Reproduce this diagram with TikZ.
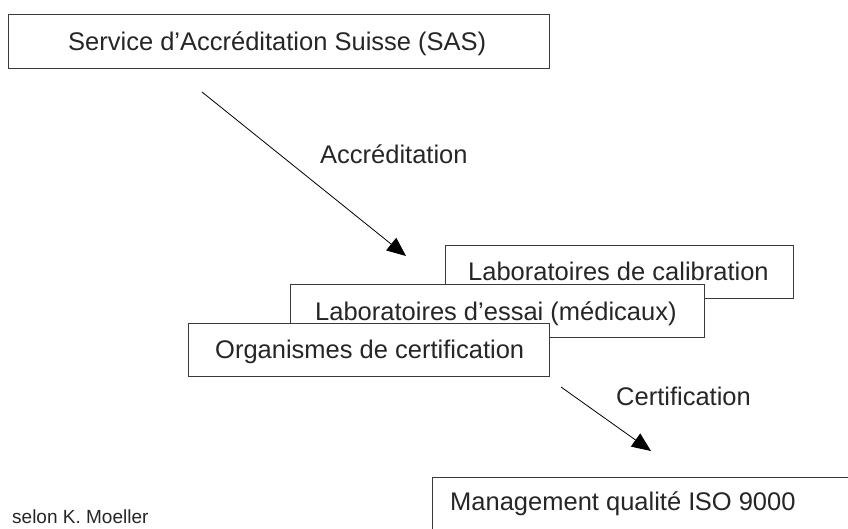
\documentclass[tikz,border=0pt]{standalone}
\usepackage{fontspec}
\setmainfont{Liberation Sans}
\usetikzlibrary{arrows.meta}
\definecolor{ink}{HTML}{262626}
\definecolor{frame}{HTML}{3A3A3A}
\begin{document}
\begin{tikzpicture}[x=1pt,y=-1pt,
  panel/.style={draw=frame, line width=1.1pt, fill=white, rectangle, inner sep=0pt, anchor=north west},
  caption/.style={text=ink, inner sep=0pt, anchor=base west, font=\fontsize{25.5}{30}\selectfont},
  small/.style={text=ink, inner sep=0pt, anchor=base west, font=\fontsize{19}{23}\selectfont},
  flow/.style={draw=black, line width=0.8pt, -{Triangle[length=19pt,width=16pt]}}]
\useasboundingbox (0,0) rectangle (848,528);
\begin{scope}
\clip (0,0) rectangle (848,528);
% accreditation body
\node[panel, minimum width=541pt, minimum height=54pt] (sas) at (8,14) {};
\node[caption] (sastxt) at (68,50) {Service d’Accréditation Suisse (SAS)};
% accreditation arrow
\coordinate (a1) at (202,92);
\coordinate (a2) at (406,256);
\draw[flow] (a1) -- (a2);
\node[caption] (acc) at (320,163) {Accréditation};
% stacked accredited bodies, back to front
\node[panel, minimum width=348pt, minimum height=53pt] (cal) at (445,245) {};
\node[caption] (caltxt) at (468,280) {Laboratoires de calibration};
\node[panel, minimum width=414pt, minimum height=53pt] (ess) at (290,284) {};
\node[caption] (esstxt) at (315,320) {Laboratoires d’essai (médicaux)};
\node[panel, minimum width=361pt, minimum height=53pt] (org) at (188,323) {};
\node[caption] (orgtxt) at (215,358) {Organismes de certification};
% certification arrow
\coordinate (c1) at (561,387);
\coordinate (c2) at (651,451);
\draw[flow] (c1) -- (c2);
\node[caption] (cert) at (616,405) {Certification};
% certified management system
\node[panel, minimum width=440pt, minimum height=80pt] (iso) at (432,477) {};
\node[caption] (isotxt) at (450,510) {Management qualit\'e I\kern-0.5ptSO 9000};
% source note
\node[small] (src) at (12,523) {selon K. Moeller};
\end{scope}
\end{tikzpicture}
\end{document}
